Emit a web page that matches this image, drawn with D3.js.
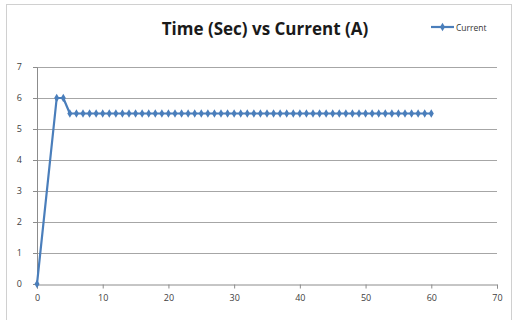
<!DOCTYPE html>
<html><head><meta charset="utf-8">
<script src="https://cdn.jsdelivr.net/npm/d3@7"></script>
<style>body{margin:0;background:#fff;} text{font-family:"Open Sans",Lato,sans-serif;}</style>
</head><body>
<svg id="c" width="516" height="320"></svg>
<script>
const title = "Time (Sec) vs Current (A)";
const seriesName = "Current";
const timeSec = [0,3,4].concat(d3.range(5,61));
const currentA = [0,6,6].concat(new Array(56).fill(5.5));
const xTicks = [0,10,20,30,40,50,60,70];
const yTicks = [0,1,2,3,4,5,6,7];

const svg = d3.select("#c");
svg.append("rect").attr("x",6.5).attr("y",4.5).attr("width",505).attr("height",320)
  .attr("fill","#fff").attr("stroke","#d0d0d0").attr("stroke-width",1);

const x = d3.scaleLinear().domain([0,70]).range([37,497]);
const y = d3.scaleLinear().domain([0,7]).range([284,67]);

// gridlines
svg.append("g").selectAll("line").data(yTicks.filter(d=>d>0)).join("line")
  .attr("x1",x(0)).attr("x2",x(70)).attr("y1",d=>Math.round(y(d))+0.5).attr("y2",d=>Math.round(y(d))+0.5)
  .attr("stroke","#a6a6a6").attr("stroke-width",1);

const gx = svg.append("g").attr("transform",`translate(0,${Math.round(y(0))+0.5})`)
  .call(d3.axisBottom(x).tickValues(xTicks).tickFormat(d3.format("d")).tickSize(4).tickPadding(6));
const gy = svg.append("g").attr("transform",`translate(${x(0)},0)`)
  .call(d3.axisLeft(y).tickValues(yTicks).tickFormat(d3.format("d")).tickSize(4).tickPadding(11));
[gx,gy].forEach(g=>{
  g.selectAll("path,line").attr("stroke","#8c8c8c");
  g.selectAll("text").attr("fill","#404040").style("font-size","9px");
});

const line = d3.line().x((d,i)=>x(timeSec[i])).y(d=>y(d));
svg.append("path").datum(currentA).attr("d",line).attr("fill","none")
  .attr("stroke","#4a7ebb").attr("stroke-width",2.2).attr("stroke-linejoin","round");
const diamond = d3.symbol().type(d3.symbolDiamond).size(22);
svg.append("g").selectAll("path").data(currentA).join("path")
  .attr("d",diamond).attr("transform",(d,i)=>`translate(${x(timeSec[i])},${y(d)})`)
  .attr("fill","#4a7ebb");

svg.append("text").attr("x",265).attr("y",35).attr("text-anchor","middle")
  .style("font-size","17px").style("font-weight","bold").attr("fill","#1a1a1a").text(title);

// legend
svg.append("line").attr("x1",431).attr("x2",454).attr("y1",27).attr("y2",27)
  .attr("stroke","#4a7ebb").attr("stroke-width",2.2);
svg.append("path").attr("d",diamond).attr("transform","translate(442.5,27)").attr("fill","#4a7ebb");
svg.append("text").attr("x",456).attr("y",30.5).style("font-size","8.5px").attr("fill","#333").text(seriesName);
</script>
</body></html>
